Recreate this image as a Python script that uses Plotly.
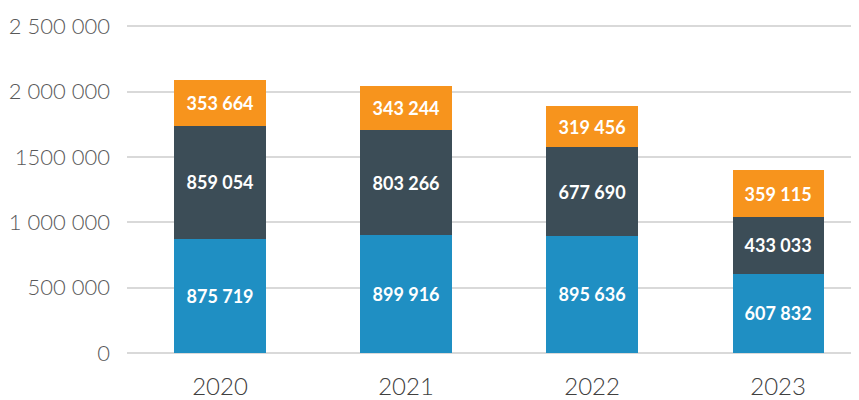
import plotly.graph_objects as go

years = ["2020", "2021", "2022", "2023"]
series_blue = [875719, 899916, 895636, 607832]
series_dark = [859054, 803266, 677690, 433033]
series_orange = [353664, 343244, 319456, 359115]
tick_vals = [0, 500000, 1000000, 1500000, 2000000, 2500000]
tick_text = ["0", "500 000", "1 000 000", "1500 000", "2 000 000", "2 500 000"]

def fmt(v):
    return f"{v:,}".replace(",", " ")

fig = go.Figure()
for vals, color in [(series_blue, "#1f8fc3"), (series_dark, "#3c4d57"), (series_orange, "#f7941d")]:
    fig.add_trace(go.Bar(
        x=years, y=vals, marker=dict(color=color, line=dict(width=0)),
        text=[fmt(v) for v in vals], textposition="inside", insidetextanchor="middle",
        textfont=dict(family="Lato", size=18, color="white", weight="bold"),
        constraintext="none", width=0.49, hoverinfo="skip"))

# page body has an 8px default margin; figure sized so it fills the 859x400 window
fig.update_layout(
    barmode="stack", width=851, height=392,
    margin=dict(l=119, r=0, t=17, b=47, autoexpand=False),
    plot_bgcolor="white", paper_bgcolor="white", showlegend=False,
    font=dict(family="Lato", color="#595959"),
    xaxis=dict(range=[-0.5, 3.435], tickfont=dict(size=24, color="#404040", weight=300),
               showgrid=False, ticks="", showline=False, automargin=False,
               ticklabelstandoff=17),
    yaxis=dict(range=[0, 2510000], tickvals=tick_vals, ticktext=tick_text,
               tickfont=dict(size=22, color="#595959", weight=300), showgrid=True,
               gridcolor="#d9d9d9", gridwidth=2, zeroline=True, zerolinecolor="#d9d9d9",
               zerolinewidth=2, ticks="", ticklabelstandoff=16, automargin=False),
)
fig.write_html("out.html")
